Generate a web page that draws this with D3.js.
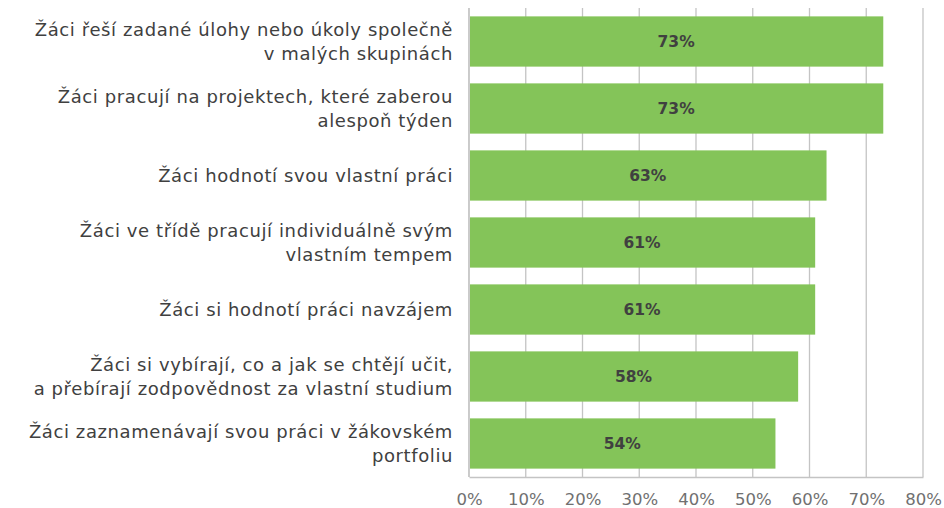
<!DOCTYPE html>
<html>
<head>
<meta charset="utf-8">
<script src="https://cdn.jsdelivr.net/npm/d3@7"></script>
<style>
  body { margin: 0; background: #fff; }
  svg text { font-family: "DejaVu Sans", sans-serif; }
</style>
</head>
<body>
<div id="chart"></div>
<script>
// data
const categories = [
    ["Žáci řeší zadané úlohy nebo úkoly společně", "v malých skupinách"],
    ["Žáci pracují na projektech, které zaberou", "alespoň týden"],
    ["Žáci hodnotí svou vlastní práci"],
    ["Žáci ve třídě pracují individuálně svým", "vlastním tempem"],
    ["Žáci si hodnotí práci navzájem"],
    ["Žáci si vybírají, co a jak se chtějí učit,", "a přebírají zodpovědnost za vlastní studium"],
    ["Žáci zaznamenávají svou práci v žákovském", "portfoliu"]
];
const values = [73, 73, 63, 61, 61, 58, 54];
const xTicks = [0, 10, 20, 30, 40, 50, 60, 70, 80];

const width = 944;
const height = 508;
const margin = { top: 8, right: 21, bottom: 31, left: 469 };

const svg = d3.select("#chart")
              .append("svg")
              .attr("width", width)
              .attr("height", height);

const xScale = d3.scaleLinear()
                 .domain([0, 80])
                 .range([margin.left, width - margin.right]);

const yScale = d3.scaleBand()
                 .domain(d3.range(categories.length))
                 .range([margin.top, height - margin.bottom])
                 .paddingInner(0.25)
                 .paddingOuter(0.125);

// vertical grid lines
svg.append("g")
   .selectAll("line")
   .data(xTicks)
   .enter()
   .append("line")
   .attr("x1", (d) => xScale(d))
   .attr("x2", (d) => xScale(d))
   .attr("y1", margin.top)
   .attr("y2", height - margin.bottom)
   .attr("stroke", "#c4c4c4")
   .attr("stroke-width", 1.3);

// bottom axis
const xAxis = d3.axisBottom(xScale)
                .tickValues(xTicks)
                .tickFormat((d) => d + "%")
                .tickSize(0)
                .tickPadding(13);

const gx = svg.append("g")
              .attr("transform", "translate(0," + (height - margin.bottom) + ")")
              .call(xAxis);
gx.select(".domain").attr("stroke", "#c4c4c4").attr("stroke-width", 1.3);
gx.selectAll("text")
  .attr("fill", "#707070")
  .style("font-size", "16.5px")
  .attr("dy", "0.9em");

// left axis line
svg.append("line")
   .attr("x1", margin.left)
   .attr("x2", margin.left)
   .attr("y1", margin.top)
   .attr("y2", height - margin.bottom)
   .attr("stroke", "#c4c4c4")
   .attr("stroke-width", 1.3);

// bars
svg.selectAll("rect.bar")
   .data(values)
   .enter()
   .append("rect")
   .attr("class", "bar")
   .attr("x", xScale(0) + 1)
   .attr("y", (d, i) => yScale(i))
   .attr("width", (d) => xScale(d) - xScale(0) - 1)
   .attr("height", yScale.bandwidth())
   .attr("fill", "#84c459");

// value labels
svg.selectAll("text.value")
   .data(values)
   .enter()
   .append("text")
   .attr("class", "value")
   .attr("x", (d) => (xScale(0) + xScale(d)) / 2)
   .attr("y", (d, i) => yScale(i) + yScale.bandwidth() / 2)
   .attr("dy", "0.36em")
   .attr("text-anchor", "middle")
   .attr("fill", "#404040")
   .style("font-size", "15.5px")
   .style("font-weight", "bold")
   .text((d) => d + "%");

// category labels
const lineH = 24;
const labels = svg.selectAll("text.cat")
   .data(categories)
   .enter()
   .append("text")
   .attr("class", "cat")
   .attr("text-anchor", "end")
   .attr("fill", "#404040")
   .style("font-size", "18px")
   .style("letter-spacing", "0.6px")
   .attr("transform", (d, i) => "translate(" + (margin.left - 16) + "," +
         (yScale(i) + yScale.bandwidth() / 2 - (d.length - 1) * lineH / 2) + ")");

labels.selectAll("tspan")
      .data((d) => d)
      .enter()
      .append("tspan")
      .attr("x", 0)
      .attr("y", (d, i) => i * lineH)
      .attr("dy", "0.36em")
      .text((d) => d);
</script>
</body>
</html>
